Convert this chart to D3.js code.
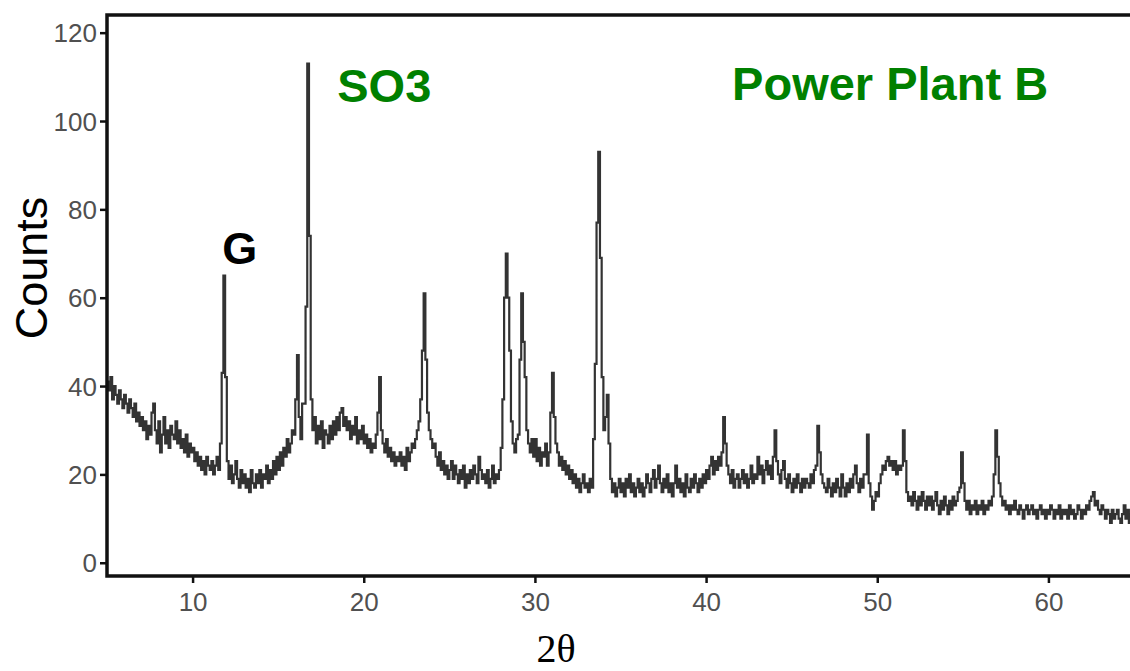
<!DOCTYPE html>
<html>
<head>
<meta charset="utf-8">
<title>XRD Power Plant B</title>
<script src="https://cdn.jsdelivr.net/npm/d3@7"></script>
<style>
  body { margin: 0; background: #fff; }
  .tick text { font-family: "Liberation Sans Narrow", "Arial Narrow", "Liberation Sans", Arial, sans-serif; fill: #505050; }
</style>
</head>
<body>
<script>
var width = 1130, height = 671;

// 2theta scan, first angle and step (degrees)
var thetaStart = 5.0;
var thetaStep = 0.1;
// counts, one row per degree (5.0 .. 64.9), then 65.0
var counts = [
  41, 39, 42, 37, 40, 38, 36, 39, 37, 35,
  38, 36, 34, 37, 35, 33, 36, 32, 34, 31,
  33, 30, 32, 28, 31, 29, 34, 36, 30, 27,
  32, 25, 29, 33, 27, 30, 26, 31, 29, 28,
  32, 27, 30, 26, 28, 25, 29, 24, 27, 25,
  26, 23, 25, 22, 24, 21, 23, 20, 24, 22,
  21, 23, 20, 22, 24, 21, 27, 43, 65, 42,
  23, 19, 22, 18, 20, 23, 19, 17, 21, 18,
  20, 17, 19, 16, 21, 18, 17, 20, 18, 21,
  17, 20, 19, 22, 18, 21, 19, 23, 20, 24,
  21, 25, 22, 26, 24, 28, 25, 27, 30, 29,
  37, 47, 33, 28, 36, 36, 58, 113, 74, 37,
  30, 33, 27, 31, 28, 32, 26, 30, 29, 27,
  31, 28, 32, 29, 33, 30, 34, 35, 31, 33,
  30, 32, 28, 31, 29, 33, 27, 30, 28, 31,
  27, 29, 26, 28, 25, 27, 26, 29, 34, 42,
  30, 27, 25, 28, 24, 26, 23, 25, 22, 24,
  23, 25, 22, 24, 21, 26, 23, 25, 27, 26,
  28, 30, 32, 37, 48, 61, 46, 34, 30, 28,
  26, 27, 24, 22, 25, 21, 23, 20, 22, 19,
  21, 23, 19, 22, 20, 18, 21, 19, 22, 17,
  20, 18, 21, 19, 22, 20, 18, 24, 21, 19,
  20, 18, 21, 17, 19, 22, 18, 20, 19, 21,
  26, 37, 60, 70, 60, 48, 32, 27, 25, 28,
  29, 46, 61, 50, 42, 30, 27, 25, 28, 24,
  28, 23, 26, 22, 25, 24, 27, 22, 25, 34,
  43, 33, 27, 25, 22, 24, 21, 23, 20, 22,
  19, 21, 18, 20, 17, 19, 16, 18, 20, 17,
  18, 16, 19, 17, 28, 45, 77, 93, 69, 42,
  30, 33, 38, 27, 19, 16, 18, 15, 17, 19,
  16, 18, 15, 19, 17, 20, 16, 18, 15, 17,
  19, 16, 18, 15, 17, 20, 18, 16, 19, 21,
  17, 19, 22, 18, 16, 19, 17, 20, 16, 18,
  15, 18, 22, 17, 19, 16, 18, 15, 20, 17,
  16, 19, 17, 20, 18, 16, 19, 17, 20, 18,
  21, 19, 22, 24, 20, 23, 21, 24, 22, 25,
  33, 27, 22, 20, 18, 21, 17, 19, 20, 17,
  19, 21, 18, 20, 17, 19, 22, 18, 20, 19,
  24, 20, 22, 18, 21, 23, 20, 22, 19, 24,
  30, 23, 20, 18, 21, 23, 19, 17, 20, 18,
  16, 19, 17, 20, 18, 16, 19, 17, 19, 18,
  17, 20, 18, 21, 22, 31, 25, 20, 18, 17,
  16, 19, 17, 15, 18, 16, 19, 17, 15, 20,
  17, 15, 18, 16, 19, 17, 20, 22, 18, 16,
  19, 17, 20, 20, 29, 18, 15, 12, 14, 16,
  15, 18, 20, 22, 21, 23, 24, 22, 23, 21,
  23, 20, 22, 21, 22, 30, 23, 16, 14, 15,
  13, 16, 14, 12, 15, 13, 16, 14, 12, 15,
  13, 15, 12, 14, 16, 13, 11, 14, 12, 15,
  13, 11, 14, 12, 15, 13, 14, 16, 17, 25,
  18, 14, 12, 14, 11, 13, 12, 14, 11, 13,
  12, 14, 11, 13, 12, 14, 13, 15, 20, 30,
  24, 18, 15, 13, 14, 12, 13, 11, 13, 12,
  14, 12, 11, 13, 12, 10, 12, 13, 11, 12,
  13, 11, 12, 10, 12, 13, 11, 12, 10, 12,
  11, 13, 12, 10, 12, 11, 13, 10, 12, 11,
  12, 10, 13, 11, 12, 10, 11, 13, 12, 10,
  12, 11, 13, 12, 14, 15, 16, 13, 14, 12,
  11, 13, 12, 10, 12, 11, 9, 12, 10, 11,
  12, 10, 9, 11, 13, 10, 12, 9, 11, 10,
  9
];
var xTicks = [10, 20, 30, 40, 50, 60];
var yTicks = [0, 20, 40, 60, 80, 100, 120];

var labels = [
  { text: "G", x: 12.75, y: 67.7, color: "#000", size: 45 },
  { text: "SO3", x: 21.2, y: 104.3, color: "#008000", size: 47 },
  { text: "Power Plant B", x: 50.75, y: 104.8, color: "#008000", size: 47 }
];

var plot = { left: 107, top: 15, right: 1134, bottom: 576 };

var svg = d3.select("body").append("svg").attr("width", width).attr("height", height);

var x = d3.scaleLinear().domain([5, 65]).range([plot.left, plot.right]);
var y = d3.scaleLinear().domain([-3, 124]).range([plot.bottom, plot.top]);

var pts = counts.map(function (c, i) { return [thetaStart + i * thetaStep, c]; });

svg.append("defs").append("clipPath").attr("id", "clip")
  .append("rect").attr("x", plot.left).attr("y", plot.top)
  .attr("width", plot.right - plot.left).attr("height", plot.bottom - plot.top);

var line = d3.line().x(function (d) { return x(d[0]); }).y(function (d) { return y(d[1]); })
  .curve(d3.curveStepAfter);

svg.append("path").datum(pts)
  .attr("clip-path", "url(#clip)")
  .attr("d", line)
  .attr("fill", "none")
  .attr("stroke", "#333")
  .attr("stroke-width", 2.2);

// frame
svg.append("rect").attr("x", plot.left).attr("y", plot.top)
  .attr("width", plot.right - plot.left).attr("height", plot.bottom - plot.top)
  .attr("fill", "none").attr("stroke", "#111").attr("stroke-width", 3.5);

var xAxis = d3.axisBottom(x).tickValues(xTicks).tickSize(7).tickPadding(10).tickSizeOuter(0);
var gx = svg.append("g").attr("transform", "translate(0," + plot.bottom + ")").call(xAxis);
gx.select(".domain").remove();
gx.selectAll("line").attr("stroke", "#111").attr("stroke-width", 2.5);
gx.selectAll("text").attr("font-size", 26);

var yAxis = d3.axisLeft(y).tickValues(yTicks).tickSize(7).tickPadding(3).tickSizeOuter(0);
var gy = svg.append("g").attr("transform", "translate(" + plot.left + ",0)").call(yAxis);
gy.select(".domain").remove();
gy.selectAll("line").attr("stroke", "#111").attr("stroke-width", 2.5);
gy.selectAll("text").attr("font-size", 26).attr("dy", "0.35em");

// axis titles
svg.append("text").attr("transform", "translate(47,268) rotate(-90)")
  .attr("text-anchor", "middle")
  .attr("font-family", "Liberation Sans, Arial, sans-serif")
  .attr("font-size", 45).attr("fill", "#000").text("Counts");

svg.append("text").attr("x", 556).attr("y", 662)
  .attr("text-anchor", "middle")
  .attr("font-family", "Liberation Serif, Times New Roman, serif")
  .attr("font-size", 40).attr("fill", "#000").text("2θ");

svg.selectAll(".lbl").data(labels).enter().append("text")
  .attr("class", "lbl")
  .attr("x", function (d) { return x(d.x); })
  .attr("y", function (d) { return y(d.y); })
  .attr("text-anchor", "middle")
  .attr("font-family", "Liberation Sans, Arial, sans-serif")
  .attr("font-weight", "bold")
  .attr("font-size", function (d) { return d.size; })
  .attr("fill", function (d) { return d.color; })
  .text(function (d) { return d.text; });
</script>
</body>
</html>
